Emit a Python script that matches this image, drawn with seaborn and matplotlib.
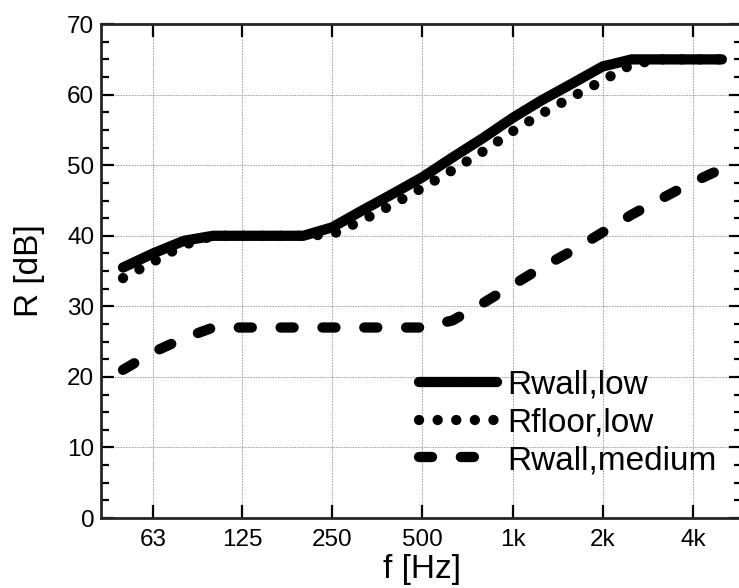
import numpy as np
import pandas as pd
import matplotlib
matplotlib.use("Agg")
import matplotlib.pyplot as plt
from matplotlib.ticker import FixedLocator, FixedFormatter, MultipleLocator, NullLocator
import seaborn as sns

# third-octave band centre frequencies [Hz]
freq = [50, 63, 80, 100, 125, 160, 200, 250, 315, 400, 500, 630, 800,
        1000, 1250, 1600, 2000, 2500, 3150, 4000, 5000]
wall_low = [35.5, 37.5, 39.3, 40, 40, 40, 40, 41.2, 43.6, 46, 48.3, 51.1, 53.9,
            56.7, 59.2, 61.7, 64, 65, 65, 65, 65]
floor_low = [34, 36.3, 38.7, 40, 40, 40, 40, 40.2, 42.2, 44.5, 46.8, 49.3, 52,
             54.8, 57.3, 59.8, 62, 64.3, 65, 65, 65]
wall_medium = [21, 23.5, 25.5, 27, 27, 27, 27, 27, 27, 27, 27, 28, 30.5,
               33, 35.5, 38, 40.5, 43, 45.3, 47.6, 49.5]
series = ["Rwall,low", "Rfloor,low", "Rwall,medium"]
xticks = [63, 125, 250, 500, 1000, 2000, 4000]
xticklabels = ["63", "125", "250", "500", "1k", "2k", "4k"]

df = pd.concat([
    pd.DataFrame({"f": freq, "R": wall_low, "series": series[0]}),
    pd.DataFrame({"f": freq, "R": floor_low, "series": series[1]}),
    pd.DataFrame({"f": freq, "R": wall_medium, "series": series[2]}),
])

sns.set_style("ticks")
plt.rcParams["font.family"] = ["Liberation Sans", "DejaVu Sans"]
plt.rcParams["lines.dash_capstyle"] = "round"
plt.rcParams["lines.solid_capstyle"] = "round"
plt.rcParams["text.color"] = "black"
plt.rcParams["axes.labelcolor"] = "black"
plt.rcParams["xtick.color"] = "black"
plt.rcParams["ytick.color"] = "black"

fig = plt.figure(figsize=(7.39, 5.88), dpi=100)
ax = fig.add_axes([0.137, 0.119, 0.8674, 0.84])

sns.lineplot(data=df, x="f", y="R", style="series", style_order=series,
             dashes={series[0]: "", series[1]: (0.01, 1.8), series[2]: (1.27, 2.8)},
             color="black", linewidth=7.4, legend=False, ax=ax)

ax.set_xscale("log")
ax.set_xlim(42.3, 5848)
ax.set_ylim(0, 70)
ax.xaxis.set_major_locator(FixedLocator(xticks))
ax.xaxis.set_major_formatter(FixedFormatter(xticklabels))
ax.xaxis.set_minor_locator(NullLocator())
ax.yaxis.set_major_locator(MultipleLocator(10))
ax.yaxis.set_minor_locator(MultipleLocator(2.5))

ax.grid(True, which="major", linestyle=":", color="#aaaaaa", linewidth=0.75)
ax.tick_params(which="both", direction="in", top=True, right=True, width=1.6,
               labelsize=17.5)
ax.tick_params(which="major", length=9.5)
ax.tick_params(which="minor", length=6)
ax.tick_params(axis="x", pad=8)
ax.tick_params(axis="y", pad=5)
for s in ax.spines.values():
    s.set_linewidth(2)

ax.set_xlabel("f [Hz]", fontsize=24, labelpad=2)
ax.set_ylabel("R [dB]", fontsize=24, labelpad=16)

handles = ax.get_lines()[:3]
ax.legend(handles, series, loc="lower left", bbox_to_anchor=(0.495, 0.085),
          frameon=False, fontsize=24, handlelength=2.35, handletextpad=0.3,
          labelspacing=0.2, borderpad=0, borderaxespad=0)

fig.savefig("out.png", dpi=100)
